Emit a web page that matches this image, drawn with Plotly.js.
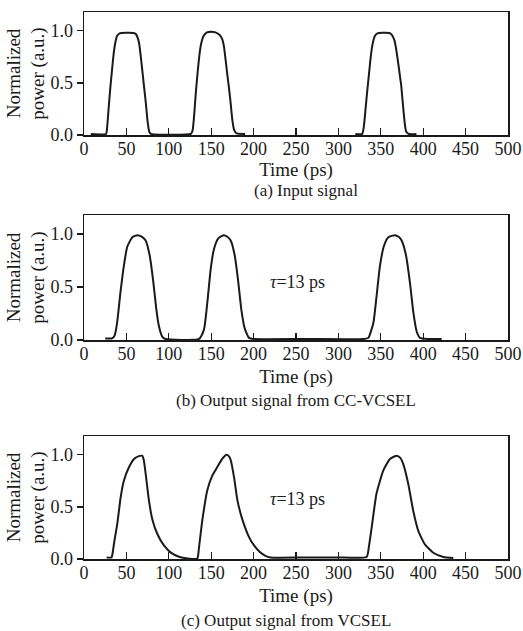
<!DOCTYPE html>
<html><head><meta charset="utf-8">
<script src="https://cdn.plot.ly/plotly-3.0.1.min.js"></script>
<style>html,body{margin:0;padding:0;background:#fff}#chart{width:523px;height:631px}</style>
</head><body><div id="chart"></div>
<script>
// ---- Data ----
const timeA = [8,26,27,29,31,33,35,37,39,42,50,58,61,63,65,67,69,71,73,75,77,79,
  126,128,130,132,134,136,138,141,145,150,155,160,163,165,167,169,171,173,175,177,180,190,
  null,
  320,328,330,332,334,336,338,340,343,346,352,360,363,366,368,370,372,374,376,378,380,383,392];
const powerA = [0.01,0.01,0.05,0.25,0.45,0.62,0.78,0.89,0.95,0.975,0.98,0.978,0.97,0.94,0.88,0.75,0.6,0.45,0.3,0.13,0.03,0.01,
  0.01,0.04,0.2,0.42,0.6,0.76,0.87,0.95,0.985,0.99,0.985,0.96,0.92,0.85,0.72,0.58,0.45,0.3,0.14,0.05,0.015,0.01,
  null,
  0.01,0.01,0.08,0.25,0.42,0.58,0.74,0.86,0.95,0.975,0.98,0.978,0.96,0.91,0.83,0.72,0.6,0.48,0.3,0.13,0.03,0.01,0.01];

const timeB = [25,33,36,39,43,47,51,57,63,68,72.7,77.4,81.4,85.3,88.4,92.4,96,
  135.6,141.5,145.4,149.4,153.3,158.4,165,169,173,177.7,181.6,185.5,189.5,194.6,200,
  260,330,335.3,341.2,345.1,349,353.8,358.9,366.7,371,374.6,379.7,384.4,388.4,392.3,396.2,405,421.8];
const powerB = [0.015,0.015,0.04,0.16,0.45,0.7,0.88,0.97,0.99,0.975,0.94,0.8,0.57,0.29,0.13,0.03,0.01,
  0.01,0.1,0.35,0.67,0.86,0.96,0.99,0.975,0.94,0.8,0.57,0.29,0.11,0.02,0.01,
  0.01,0.01,0.02,0.16,0.42,0.7,0.89,0.97,0.99,0.975,0.94,0.8,0.54,0.26,0.08,0.02,0.01,0.01];

const timeC = [26.7,32.5,33.4,36,39.3,43.2,47,53,59,64,68.8,70.5,72.7,76.6,80.6,86.5,94.3,102,112,122,133.6,
  135.6,139.5,145.4,151.3,157,163,168,171,173,177,181,186.7,194.6,200.5,207,214,220,
  260,300,333.3,336,339.2,345,353,360.8,368.7,373,376.5,382.4,388.3,394.2,402,411.9,423.7,435.5];
const powerC = [0.015,0.015,0.04,0.18,0.34,0.59,0.75,0.88,0.96,0.985,0.99,0.95,0.82,0.56,0.38,0.24,0.13,0.064,0.022,0.006,0.005,
  0.11,0.37,0.66,0.8,0.88,0.96,1.0,0.985,0.95,0.78,0.56,0.38,0.21,0.13,0.07,0.03,0.015,
  0.015,0.015,0.02,0.12,0.3,0.63,0.85,0.96,0.99,0.97,0.91,0.72,0.46,0.27,0.14,0.06,0.02,0.01];

const xTickVals = [0,50,100,150,200,250,300,350,400,450,500];
const yTickVals = [0,0.5,1.0];
const yTickText = ['0.0','0.5','1.0'];
const xTitle = 'Time (ps)';
const yTitle = 'Normalized<br>power (a.u.)';
const captions = ['(a) Input signal','(b) Output signal from CC-VCSEL','(c) Output signal from VCSEL'];
const tauLabel = '<i>τ</i>=13 ps';

// ---- Layout geometry (pixels) ----
const W = 523, H = 631;
const FONT = '"Liberation Serif", "Times New Roman", serif';
const INK = '#1a1a1a';
const plotLeft = 84, plotRight = 508;
const panels = [ {top: 12, bottom: 135, titleStandoff: 2}, {top: 215, bottom: 340, titleStandoff: 6}, {top: 436, bottom: 559, titleStandoff: 6} ];
const xDom = [plotLeft / W, plotRight / W];
const py = p => 1 - p / H;
const px = p => p / W;

const lineStyle = {color: INK, width: 2, shape: 'spline', smoothing: 0.5};
const traces = [
  {x: timeA, y: powerA, xaxis: 'x', yaxis: 'y'},
  {x: timeB, y: powerB, xaxis: 'x2', yaxis: 'y2'},
  {x: timeC, y: powerC, xaxis: 'x3', yaxis: 'y3'}
].map(t => Object.assign(t, {type: 'scatter', mode: 'lines', line: lineStyle, connectgaps: false, showlegend: false, hoverinfo: 'skip'}));

function xAxis(i) {
  return {
    domain: xDom, anchor: 'y' + (i ? i + 1 : ''), range: [0, 500], fixedrange: true,
    tickvals: xTickVals, ticks: 'inside', ticklen: 7, tickwidth: 1.3, tickcolor: INK,
    ticklabelstandoff: -3,
    showline: true, mirror: true, linecolor: INK, linewidth: 1.5, showgrid: false, zeroline: false,
    tickfont: {family: FONT, size: 18, color: INK},
    title: {text: xTitle, font: {family: FONT, size: 19, color: INK}, standoff: panels[i].titleStandoff}
  };
}
function yAxis(i) {
  const p = panels[i];
  return {
    domain: [py(p.bottom), py(p.top)], anchor: 'x' + (i ? i + 1 : ''), range: [0, 1.18], fixedrange: true,
    tickvals: yTickVals, ticktext: yTickText, ticks: 'outside', ticklen: 6, tickwidth: 1.3, tickcolor: INK,
    showline: true, mirror: true, linecolor: INK, linewidth: 1.5, showgrid: false, zeroline: false,
    tickfont: {family: FONT, size: 18, color: INK},
    title: {text: yTitle, font: {family: FONT, size: 19, color: INK}, standoff: 0}
  };
}

const capPos = [ {x: 306, y: 190}, {x: 296, y: 400}, {x: 286, y: 620} ];
const annotations = captions.map((c, i) => ({
  text: c, xref: 'paper', yref: 'paper', x: px(capPos[i].x), y: py(capPos[i].y),
  xanchor: 'center', yanchor: 'middle', showarrow: false,
  font: {family: FONT, size: 17, color: INK}
}));
[{x: 268, y: 282}, {x: 268, y: 499}].forEach(p => {
  annotations.push({
    text: tauLabel, xref: 'paper', yref: 'paper', x: px(p.x), y: py(p.y),
    xanchor: 'left', yanchor: 'middle', showarrow: false,
    font: {family: FONT, size: 18, color: INK}
  });
});

const layout = {
  width: W, height: H, margin: {l: 0, r: 0, t: 0, b: 0},
  paper_bgcolor: '#fff', plot_bgcolor: '#fff',
  xaxis: xAxis(0), yaxis: yAxis(0),
  xaxis2: xAxis(1), yaxis2: yAxis(1),
  xaxis3: xAxis(2), yaxis3: yAxis(2),
  annotations: annotations
};

Plotly.newPlot('chart', traces, layout, {staticPlot: true, displayModeBar: false});
</script>
</body></html>
